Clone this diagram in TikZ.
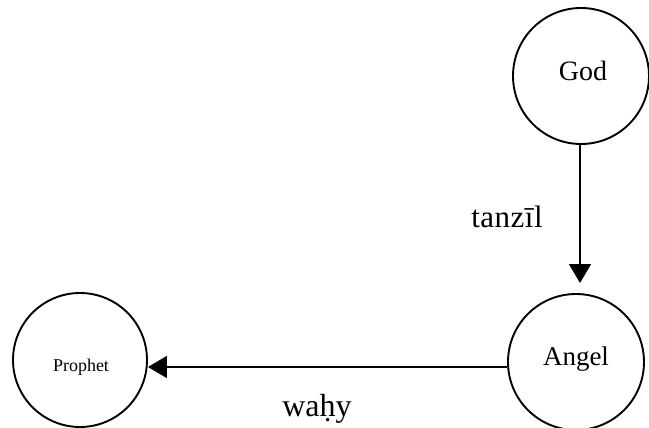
\documentclass[tikz,border=0pt]{standalone}
\usepackage{fontspec}
\setmainfont{Liberation Serif}
\usetikzlibrary{arrows.meta}
\tikzset{
  entity/.style={circle, draw, line width=1.9pt, inner sep=0pt, minimum size=136pt},
  flow/.style={line width=1.5pt, -{Triangle[length=19pt,width=22pt]}},
  flowlabel/.style={inner sep=0pt, anchor=base}
}
\begin{document}
\begin{tikzpicture}[x=1pt, y=-1pt]
\useasboundingbox (0,0) rectangle (649,428);
\node[entity] (god) at (581,76) {};
\node[font=\fontsize{28}{30}\selectfont] (godtxt) at (583,71) {God};
\node[entity] (angel) at (576,362) {};
\node[font=\fontsize{27}{30}\selectfont] (angeltxt) at (576,359) {Angel};
\node[entity, minimum size=134pt] (prophet) at (80,360) {};
\node[font=\fontsize{18}{20}\selectfont] (prophettxt) at (81,367) {Prophet};
\coordinate (tipA) at (580,283);
\draw[flow] (god.south -| tipA) -- (tipA);
\coordinate (startW) at (angel.west |- 0,367);
\coordinate (endW) at (prophet.east |- 0,367);
\draw[flow] (startW) -- (endW);
\node[flowlabel, font=\fontsize{31}{34}\selectfont] (tanzil) at (507,227) {t\kern0.5pt a\kern0.5pt n\kern0.5pt z\kern0.5pt ī\kern0.5pt l};
\node[flowlabel, font=\fontsize{32}{34}\selectfont] (wahy) at (317,416) {waḥy};
\end{tikzpicture}
\end{document}
